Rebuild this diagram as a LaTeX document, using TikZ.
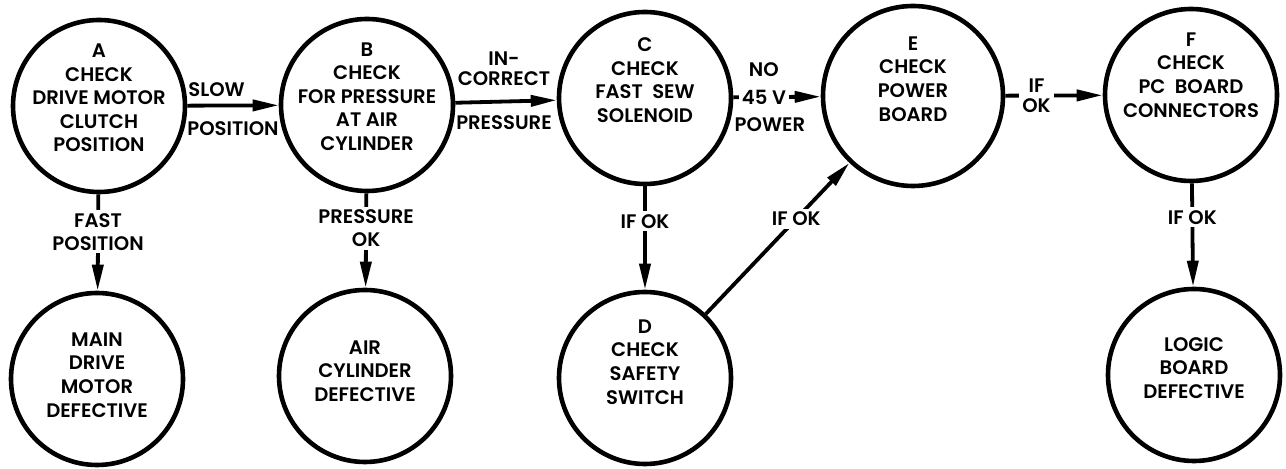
\documentclass[tikz,border=0pt]{standalone}
\usepackage{fontspec}
\setmainfont{Poppins SemiBold}
\usetikzlibrary{arrows.meta,positioning}

\begin{document}
\begin{tikzpicture}[x=0.5pt,y=-0.5pt,
    stepnode/.style={circle,draw,line width=2.3pt,minimum size=86pt,inner sep=0pt},
    bignode/.style={stepnode,minimum size=90pt},
    txt/.style={align=center,font=\fontsize{9.8}{11.8}\selectfont},
    lbl/.style={align=center,inner sep=1.5pt,font=\fontsize{9.8}{10}\selectfont},
    gap/.style={lbl,fill=white,font=\fontsize{9.8}{11.5}\selectfont},
    flow/.style={line width=1.9pt,-{Triangle[length=13pt,width=5.5pt]}}]
  \useasboundingbox (0,0) rectangle (1286,469);

  % upper row
  \node[stepnode,label={[txt,yshift=4pt]center:{A\\CHECK\\DRIVE MOTOR\\CLUTCH\\POSITION}}] (A) at (99,106) {};
  \node[stepnode,label={[txt,yshift=4.2pt]center:{B\\CHECK\\FOR PRESSURE\\AT AIR\\CYLINDER}}] (B) at (367,105) {};
  \node[stepnode,label={[txt,yshift=9pt]center:{C\\CHECK\\FAST\ \ SEW\\SOLENOID}}] (C) at (645,98) {};
  \node[bignode,label={[txt,yshift=8.5pt]center:{E\\CHECK\\POWER\\BOARD}}] (E) at (913,96) {};
  \node[stepnode,label={[txt,yshift=10pt]center:{F\\CHECK\\PC\ \ BOARD\\CONNECTORS}}] (F) at (1191,95) {};

  % lower row
  \node[stepnode,label={[txt,yshift=2pt]center:{MAIN\\DRIVE\\MOTOR\\DEFECTIVE}}] (MainDrive) at (97,379) {};
  \node[stepnode,label={[txt,yshift=2.5pt]center:{AIR\\CYLINDER\\DEFECTIVE}}] (AirCyl) at (365,376) {};
  \node[stepnode,label={[txt,yshift=8pt]center:{D\\CHECK\\SAFETY\\SWITCH}}] (D) at (645,378) {};
  \node[stepnode,label={[txt,yshift=3.5pt]center:{LOGIC\\BOARD\\DEFECTIVE}}] (Logic) at (1194,375) {};

  % connectors
  \draw[flow] (A) -- node[lbl,above,pos=0.32,yshift=2pt] {SLOW}
    node[lbl,below,pos=0.5,yshift=-5.5pt] {POSITION} (B);
  \draw[flow] (B) -- node[lbl,above,pos=0.48,yshift=5.5pt] {IN-\\CORRECT}
    node[lbl,below,pos=0.48,yshift=-4.5pt] {PRESSURE} (C);
  \draw[flow] (C) -- node[gap,pos=0.35,label={[lbl,inner sep=3.2pt]above:NO},
    label={[lbl,inner sep=3.2pt,xshift=3pt]below:POWER}] {45 V} (E);
  \draw[flow] (E) -- node[gap,pos=0.32,font=\fontsize{9.8}{10}\selectfont] {IF\\OK} (F);
  \draw[flow] (A) -- node[gap,pos=0.39] {FAST\\POSITION} (MainDrive);
  \draw[flow] (B) -- node[gap,pos=0.37] {PRESSURE\\OK} (AirCyl);
  \draw[flow] (C) -- node[gap,pos=0.34] {IF OK} (D);
  \draw[flow] (D) -- node[gap,pos=0.63] {IF OK} (E);
  \draw[flow] (F) -- node[gap,pos=0.33] {IF OK} (Logic);
\end{tikzpicture}
\end{document}
